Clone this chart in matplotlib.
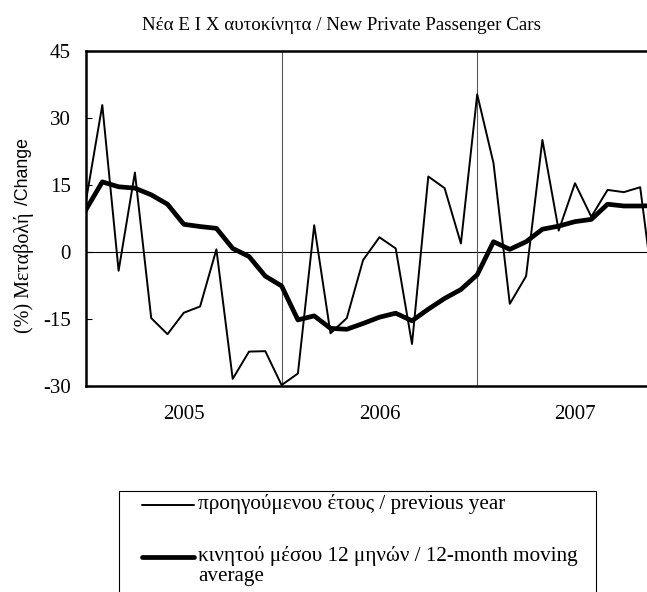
import matplotlib.pyplot as plt
from matplotlib.lines import Line2D
from matplotlib.patches import Rectangle

# monthly % change, new private passenger cars
yoy = [11.5, 32.9, -4.2, 17.8, -14.8, -18.4, -13.6, -12.2, 0.6, -28.4, -22.3, -22.2,
       -29.8, -27.2, 6.0, -18.2, -14.8, -1.8, 3.3, 0.8, -20.6, 16.9, 14.3, 1.9,
       35.3, 19.9, -11.6, -5.4, 25.1, 4.8, 15.4, 7.9, 13.9, 13.4, 14.5, -14.0]
ma12 = [9.5, 15.7, 14.6, 14.3, 12.8, 10.7, 6.2, 5.7, 5.3, 0.8, -1.0, -5.4,
        -7.6, -15.2, -14.3, -17.1, -17.3, -16.0, -14.6, -13.7, -15.4, -12.8, -10.4, -8.4,
        -5.1, 2.3, 0.6, 2.3, 5.1, 5.8, 6.8, 7.3, 10.7, 10.3, 10.3, 10.4]
years = ['2005', '2006', '2007']
year_breaks = [12, 24]
yticks = [-30, -15, 0, 15, 30, 45]

x = list(range(len(yoy)))

W, H = 647, 592
fig = plt.figure(figsize=(W / 100, H / 100), dpi=100)
plt.rcParams['font.family'] = ['Liberation Serif', 'DejaVu Serif']

# axes placed in pixel terms (left 86, top 51, bottom 386)
ax = fig.add_axes([86 / W, 1 - 386 / H, (W - 86) / W, 335 / H])

ax.axhline(0, color='black', linewidth=0.8, zorder=1)
for b in year_breaks:
    ax.axvline(b, color='#555555', linewidth=0.8, zorder=1)

thin, = ax.plot(x, yoy, color='black', linewidth=1.4, zorder=3)
thick, = ax.plot(x, ma12, color='black', linewidth=3.4, zorder=4,
                 solid_joinstyle='round')

ax.set_xlim(0, (W - 86) / 16.3)
ax.set_ylim(-30, 45)
ax.set_yticks(yticks)
ax.set_yticklabels([str(t) for t in yticks], fontsize=15)
ax.tick_params(axis='y', direction='in', length=4, width=0.8, pad=11)

centers = [6, 18, 30]
ax.set_xticks(centers)
ax.set_xticklabels(years, fontsize=15)
ax.tick_params(axis='x', length=0, pad=14)

for s in ['left', 'bottom', 'top']:
    ax.spines[s].set_linewidth(1.8)
ax.spines['right'].set_visible(False)

fig.text(341 / W, 1 - 25 / H, 'Νέα Ε Ι Χ αυτοκίνητα / New Private Passenger Cars',
         ha='center', va='center', fontsize=13.7)

# y label: serif Greek part + sans English part
fig.text(24 / W, 1 - 333 / H, '(%) Μεταβολή', rotation=90, ha='center', va='bottom',
         fontsize=14.5)
fig.text(24 / W, 1 - 138 / H, '/Change', rotation=90, ha='center', va='top',
         fontsize=12.8, family=['Liberation Sans', 'DejaVu Sans'])

# legend box (bottom cut by figure edge)
fig.add_artist(Rectangle((119 / W, -0.05), (596 - 119) / W, 1 - 491 / H + 0.05,
                         transform=fig.transFigure, fill=False,
                         edgecolor='black', linewidth=0.8))
for yy, line, label in [(505, thin, 'προηγούμενου έτους / previous year'),
                        (557, thick, 'κινητού μέσου 12 μηνών / 12-month moving\naverage')]:
    fig.add_artist(Line2D([142 / W, 194 / W], [1 - yy / H, 1 - yy / H],
                          transform=fig.transFigure, color='black',
                          linewidth=line.get_linewidth(), solid_capstyle='round'))
    fig.text(198 / W, 1 - (yy - 11) / H, label, ha='left', va='top', fontsize=15.2,
             linespacing=1.08)

fig.savefig('out.png', dpi=100)
